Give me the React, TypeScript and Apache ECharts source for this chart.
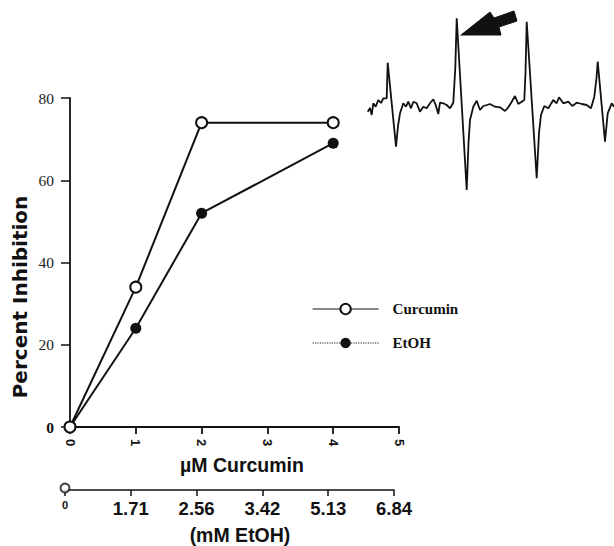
import React, { useEffect, useRef } from "react";
import * as echarts from "echarts";

// Main plot data
const doses = [0, 1, 2, 4]; // µM curcumin
const curcuminInhibition = [0, 34, 74, 74];
const etohInhibition = [0, 24, 52, 69];

// Secondary axis (mM EtOH) tick labels
const etohAxisLabels = ["0", "1.71", "2.56", "3.42", "5.13", "6.84"];

// ESR spectrum trace (field position, signal amplitude)
const spectrumField = [
  0.7, 3, 4.7, 6.3, 8.7, 11.3, 14, 16.3, 19.7, 20.7, 29, 31, 33, 36.3, 39, 41.3, 44, 46.3, 49.7, 53,
  56.3, 59.7, 63, 66.3, 68.7, 71.3, 73, 76.3, 79.7, 83, 86.3, 88.3, 89.7, 99.7, 101.5, 103, 106.3,
  109.7, 113, 116.3, 120, 123, 128, 133, 138, 141.3, 144.7, 148, 151.3, 154.7, 157.3, 158.5, 159.7,
  169.7, 172, 174, 177.3, 181.3, 186.3, 189.7, 192, 196.3, 201.3, 205.3, 209.7, 214.7, 219.7, 224,
  227.3, 229.5, 230.7, 238, 240.7, 244.7, 247,
];
const spectrumSignal = [
  -3.7, 0, -7, 4.7, 1.3, 8, 5, 9.7, 9.7, 45.3, -38.7, -18, -5.3, 4.7, 1.3, 6.3, -0.3, 6.3, 4.7, -3.7,
  1.3, -0.3, 4.7, 8.7, 3, -6, 5.3, 4.7, 3, -0.3, 5.3, 40, 89.7, -82, -35, -12, 1.3,
  7.3, -2, 2, 3, 4, 1.3, 0.7, -3, 0.7, 6.3, 12, 4, 6.3, 8, 35, 86.3,
  -70.3, -25, -7, 2, -0.3, 8, 4.7, 10.7, 4.7, 6.3, 2, 5.3, 4, 3, -0.3,
  11.3, 30, 46.3, -33.7, -5.3, 4.7, 1.3,
];

export default function App() {
  const ref = useRef<HTMLDivElement>(null);
  useEffect(() => {
    if (!ref.current) return;
    const chart = echarts.init(ref.current, undefined, { renderer: "svg" });
    const black = "#111";
    const option: any = {
      animation: false,
      backgroundColor: "#fff",
      grid: [
        { left: 70, top: 98, width: 329, height: 329 },
        { left: 65, top: 480, width: 329, height: 10 },
        { left: 367, top: 8, width: 247, height: 190 },
      ],
      xAxis: [
        {
          gridIndex: 0,
          type: "value",
          min: 0,
          max: 5,
          interval: 1,
          splitLine: { show: false },
          axisLine: { show: true, onZero: false, lineStyle: { color: black, width: 1.8 } },
          axisTick: { show: true, inside: false, length: 7, lineStyle: { color: black, width: 1.8 } },
          axisLabel: {
            rotate: -90,
            margin: 12,
            color: black,
            fontFamily: "Liberation Sans",
            fontWeight: "bold",
            fontSize: 13,
          },
        },
        {
          gridIndex: 1,
          type: "category",
          boundaryGap: false,
          data: etohAxisLabels,
          axisLine: { show: true, onZero: false, lineStyle: { color: black, width: 1.5 } },
          axisTick: { show: true, inside: false, length: 6, alignWithLabel: true, lineStyle: { color: black, width: 1.5 } },
          axisLabel: {
            margin: 9,
            color: black,
            fontFamily: "Liberation Sans",
            fontWeight: "bold",
            fontSize: 18.5,
            interval: 0,
            formatter: (v: string, i: number) => (i === 0 ? "{z|0}" : v),
            rich: { z: { fontSize: 11, fontWeight: "bold", fontFamily: "Liberation Sans", color: black } },
          },
        },
        { gridIndex: 2, type: "value", min: 0, max: 247, show: false },
      ],
      yAxis: [
        {
          gridIndex: 0,
          type: "value",
          min: 0,
          max: 80,
          interval: 20,
          splitLine: { show: false },
          axisLine: { show: true, onZero: false, lineStyle: { color: black, width: 1.8 } },
          axisTick: { show: true, inside: false, length: 9, lineStyle: { color: black, width: 1.5 } },
          axisLabel: {
            margin: 16,
            color: "#222",
            fontFamily: "Liberation Serif",
            fontSize: 15.5,
            formatter: (v: number) => (v === 0 ? "{b|0}" : String(v)),
            rich: { b: { fontWeight: "bold", fontFamily: "Liberation Serif", fontSize: 15.5, color: black } },
          },
        },
        { gridIndex: 1, type: "value", min: 0, max: 1, show: false },
        { gridIndex: 2, type: "value", min: -90, max: 100, show: false },
      ],
      legend: {
        orient: "vertical",
        left: 307,
        top: 296,
        itemWidth: 66,
        itemHeight: 13,
        itemGap: 18,
        selectedMode: false,
        textStyle: {
          fontFamily: "Liberation Serif",
          fontWeight: "bold",
          fontSize: 15,
          color: black,
          lineHeight: 16,
          padding: [0, 0, 0, 9],
        },
        data: [
          { name: "Curcumin", lineStyle: { width: 1.2, type: "solid", color: black } },
          { name: "EtOH", lineStyle: { width: 1.2, type: "dotted", color: black } },
        ],
      },
      series: [
        {
          name: "EtOH",
          type: "line",
          xAxisIndex: 0,
          yAxisIndex: 0,
          data: doses.map((d, i) => [d, etohInhibition[i]]),
          symbol: "circle",
          symbolSize: 11,
          itemStyle: { color: black },
          lineStyle: { color: black, width: 2 },
          z: 2,
        },
        {
          name: "Curcumin",
          type: "line",
          xAxisIndex: 0,
          yAxisIndex: 0,
          data: doses.map((d, i) => [d, curcuminInhibition[i]]),
          symbol: "emptyCircle",
          symbolSize: 11,
          itemStyle: { color: black, borderWidth: 1.6 },
          lineStyle: { color: black, width: 2 },
          z: 3,
        },
        {
          name: "axisOrigin",
          type: "scatter",
          xAxisIndex: 1,
          yAxisIndex: 1,
          data: [[0, 0.2]],
          symbol: "emptyCircle",
          symbolSize: 9,
          itemStyle: { color: black, borderWidth: 1.5 },
          z: 5,
        },
        {
          name: "spectrum",
          type: "line",
          xAxisIndex: 2,
          yAxisIndex: 2,
          data: spectrumField.map((f, i) => [f, spectrumSignal[i]]),
          symbol: "none",
          lineStyle: { color: black, width: 1.8 },
        },
      ],
      graphic: [
        {
          type: "text",
          x: 20,
          y: 297,
          rotation: Math.PI / 2,
          style: {
            text: "Percent Inhibition",
            fontFamily: "DejaVu Sans",
            fontWeight: "bold",
            fontSize: 20,
            fill: black,
            align: "center",
            verticalAlign: "middle",
          },
        },
        {
          type: "text",
          x: 242,
          y: 465,
          style: {
            text: "µM Curcumin",
            fontFamily: "Liberation Sans",
            fontWeight: "bold",
            fontSize: 19.5,
            fill: black,
            align: "center",
            verticalAlign: "middle",
          },
        },
        {
          type: "text",
          x: 240,
          y: 535,
          style: {
            text: "(mM EtOH)",
            fontFamily: "Liberation Sans",
            fontWeight: "bold",
            fontSize: 19.5,
            fill: black,
            align: "center",
            verticalAlign: "middle",
          },
        },
        {
          type: "polygon",
          shape: {
            points: [
              [461, 35],
              [490, 12],
              [494, 18],
              [514, 11],
              [517, 21],
              [499, 27],
              [501, 35],
            ],
          },
          style: { fill: black, stroke: black, lineWidth: 1 },
        },
        {
          type: "line",
          shape: { x1: 457, y1: 36, x2: 462, y2: 35 },
          style: { stroke: "#888", lineWidth: 1, lineDash: [2, 1] },
        },
      ],
    };
    chart.setOption(option);
    return () => chart.dispose();
  }, []);
  return (
    <div
      ref={ref}
      style={{ position: "fixed", left: 0, top: 0, width: 614, height: 546, background: "#fff" }}
    />
  );
}
